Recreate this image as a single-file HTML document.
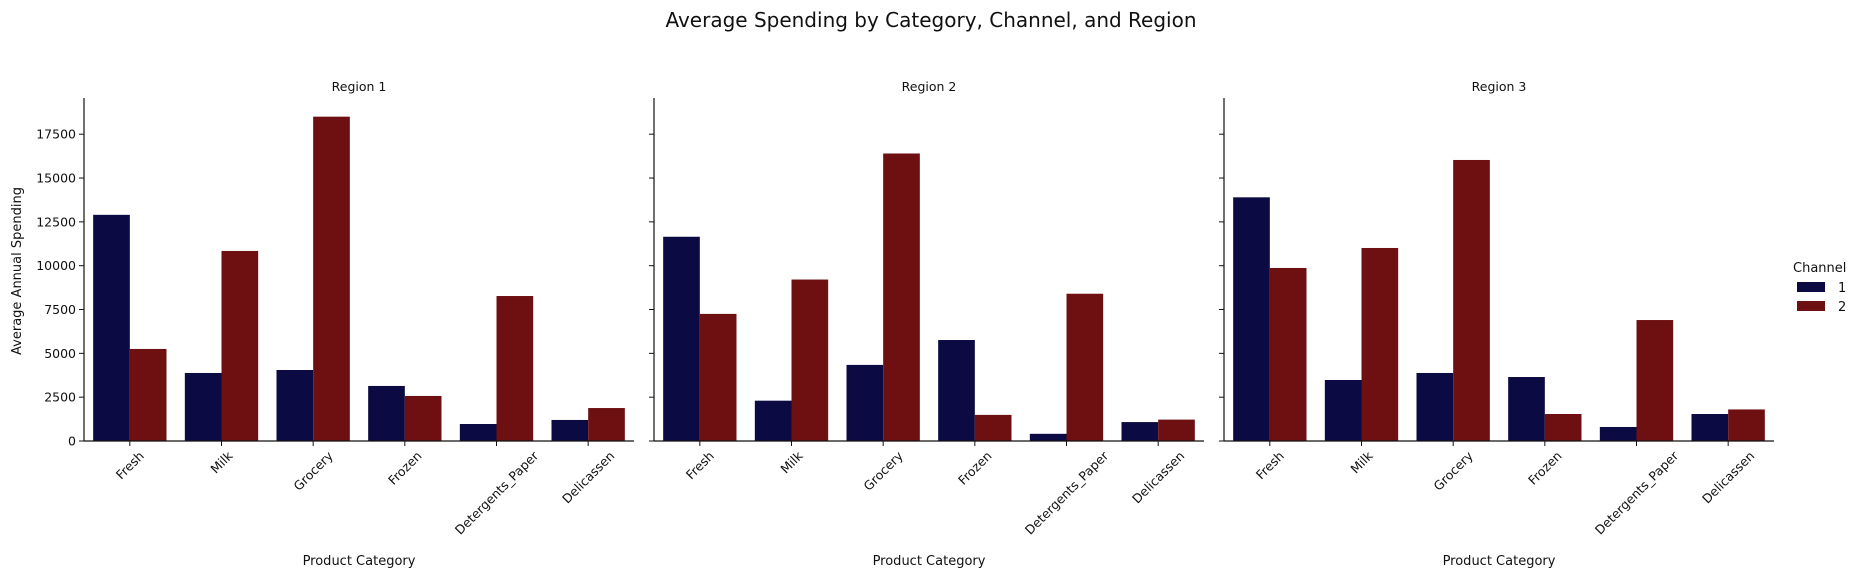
<!DOCTYPE html>
<html><head><meta charset="utf-8"><style>
html,body{margin:0;padding:0;background:#fff;}
svg{display:block;font-family:"DejaVu Sans","Liberation Sans",sans-serif;}
</style></head><body>
<svg id="chart" width="1862" height="578" viewBox="0 0 1862 578" xmlns="http://www.w3.org/2000/svg">
<text x="931" y="27" text-anchor="middle" font-size="20" fill="#111">Average Spending by Category, Channel, and Region</text>
<text transform="translate(21,271) rotate(-90)" text-anchor="middle" font-size="13" fill="#111">Average Annual Spending</text>
<g>
<text x="1793" y="272" font-size="13" fill="#111">Channel</text>
<rect x="1797" y="282" width="28" height="10" fill="#0c0a42"/>
<text x="1838" y="292" font-size="13" fill="#111">1</text>
<rect x="1797" y="301" width="28" height="10" fill="#6e1012"/>
<text x="1838" y="311" font-size="13" fill="#111">2</text>
</g>
</svg>
<script>
const categories = ["Fresh","Milk","Grocery","Frozen","Detergents_Paper","Delicassen"];
const regions = ["Region 1","Region 2","Region 3"];
const channel1 = [
  [12900,3880,4050,3140,970,1200],
  [11650,2300,4340,5760,410,1080],
  [13900,3480,3880,3650,800,1540]
];
const channel2 = [
  [5250,10840,18500,2570,8270,1880],
  [7250,9210,16400,1490,8400,1220],
  [9870,11010,16030,1540,6900,1800]
];
const yTicks = [0,2500,5000,7500,10000,12500,15000,17500];

const svg = document.getElementById('chart');
const NS = 'http://www.w3.org/2000/svg';
const panelX = [84, 654, 1224];
const panelW = 550;
const y0 = 441, yTop = 98;
const k = (441 - 134.2) / 17500;
function yScale(v){ return y0 - v * k; }
function mk(tag, attrs){ const e = document.createElementNS(NS, tag); for (const a in attrs) e.setAttribute(a, attrs[a]); return e; }

regions.forEach((r, p) => {
  const x0 = panelX[p];
  const g = mk('g', {});
  
  
  svg.appendChild(g);
  const t = mk('text', {x: x0 + panelW/2, y: 91, 'text-anchor': 'middle', 'font-size': 12.5, fill: '#111'});
  t.textContent = r;
  
  
  g.appendChild(t);
  const step = panelW / categories.length;
  const bw = step * 0.4;
  categories.forEach((c, i) => {
    const cx = x0 + step * (i + 0.5);
    [channel1[p][i], channel2[p][i]].forEach((v, s) => {
      const b = mk('rect', {x: cx - bw + s * bw, y: yScale(v), width: bw, height: y0 - yScale(v), fill: s ? '#6e1012' : '#0c0a42'});
      
      
      g.appendChild(b);
    });
    const tk = mk('line', {x1: cx, x2: cx, y1: y0, y2: y0 + 5, stroke: '#111', 'stroke-width': 1});
    
    
    g.appendChild(tk);
    const lb = mk('text', {'text-anchor': 'middle', 'dominant-baseline': 'central', 'font-size': 12.5, fill: '#111'});
    lb.textContent = c;
    
    
    g.appendChild(lb);
    const len = lb.getComputedTextLength();
    const h = (len + 12.5) * 0.7071;
    lb.setAttribute('transform', 'translate(' + cx + ',' + (y0 + 8 + h/2) + ') rotate(-45)');
  });
  yTicks.forEach(v => {
    const tk = mk('line', {x1: x0 - 5, x2: x0, y1: yScale(v), y2: yScale(v), stroke: '#111', 'stroke-width': 1});
    
    
    g.appendChild(tk);
    if (p === 0) {
      const lb = mk('text', {x: x0 - 8, y: yScale(v) + 4.5, 'text-anchor': 'end', 'font-size': 12.5, fill: '#111'});
      lb.textContent = v;
      
      
      g.appendChild(lb);
    }
  });
  const ya = mk('line', {x1: x0, x2: x0, y1: yTop, y2: y0 + 0.5, stroke: '#111', 'stroke-width': 1.2});
  
  
  g.appendChild(ya);
  const xa = mk('line', {x1: x0, x2: x0 + panelW, y1: y0, y2: y0, stroke: '#111', 'stroke-width': 1.2});
  
  
  g.appendChild(xa);
  const xt = mk('text', {x: x0 + panelW/2, y: 565, 'text-anchor': 'middle', 'font-size': 13, fill: '#111'});
  xt.textContent = 'Product Category';
  
  
  g.appendChild(xt);
});
</script>
</body></html>
